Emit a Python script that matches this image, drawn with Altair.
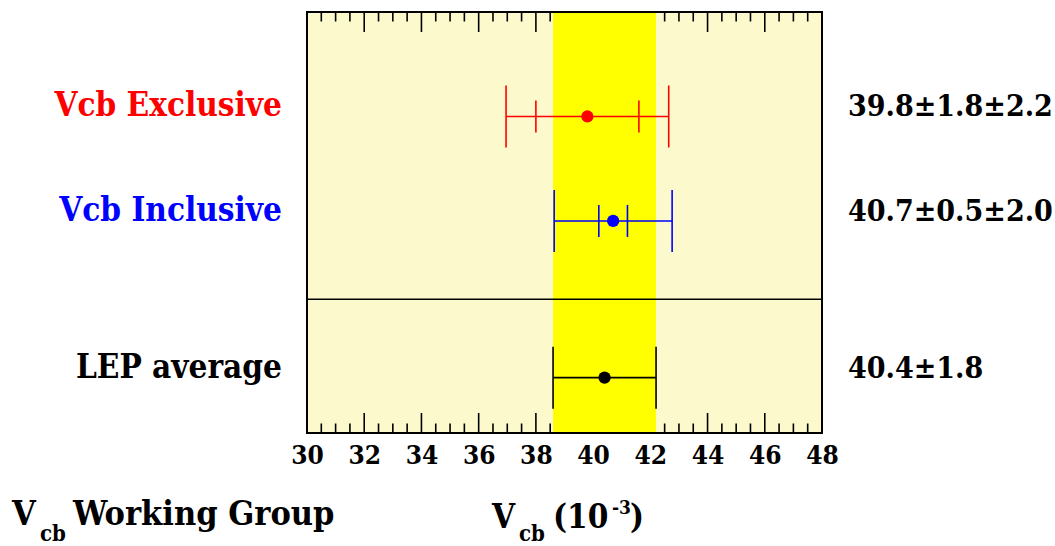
import numpy as np
import pandas as pd
import altair as alt

# Measurements of |Vcb| (units of 10^-3): central value, statistical and systematic error
names = ["Vcb Exclusive", "Vcb Inclusive", "LEP average"]
central = [39.8, 40.7, 40.4]
stat_err = [1.8, 0.5, 1.8]
syst_err = [2.2, 2.0, 0.0]
colours = ["#ff0000", "#0000ff", "#000000"]
rows = [1.0, 2.0, 3.5]
separator_row = [2.75]

x_domain = [30, 48]
label_values = list(range(30, 49, 2))
minor_step = 0.5

FONT = "DejaVu Serif Condensed"
W, H = 515, 421
Y_MAX = 4.03
PX = H / Y_MAX  # pixels per row unit

df = pd.DataFrame({"name": names, "central": central, "stat": stat_err,
                   "syst": syst_err, "colour": colours, "row": rows})
df["total"] = np.sqrt(df["stat"] ** 2 + df["syst"] ** 2)
df["lo"] = df["central"] - df["total"]
df["hi"] = df["central"] + df["total"]
df["ilo"] = df["central"] - df["stat"]
df["ihi"] = df["central"] + df["stat"]
df["value_text"] = [
    f"{c:.1f}±{s:.1f}±{y:.1f}" if y > 0 else f"{c:.1f}±{s:.1f}"
    for c, s, y in zip(df["central"], df["stat"], df["syst"])
]

# Error-bar caps: tall ones at the total error, short ones at the statistical error
cap_rows = []
for _, r in df.iterrows():
    for pos in (r["lo"], r["hi"]):
        cap_rows.append({"pos": pos, "row": r["row"], "half": 31 / PX, "colour": r["colour"]})
    if r["syst"] > 0:
        for pos in (r["ilo"], r["ihi"]):
            cap_rows.append({"pos": pos, "row": r["row"], "half": 16 / PX, "colour": r["colour"]})
caps = pd.DataFrame(cap_rows)
caps["y0"] = caps["row"] - caps["half"]
caps["y1"] = caps["row"] + caps["half"]

avg = df[df["name"] == "LEP average"]

ticks = pd.DataFrame({"v": np.arange(x_domain[0], x_domain[1] + 0.001, minor_step)})
ticks["len"] = np.where(np.isclose(ticks["v"] % 2, 0), 20 / PX, 9.5 / PX)

xs = alt.Scale(domain=x_domain, nice=False, zero=False)
ys = alt.Scale(domain=[0, Y_MAX], reverse=True, nice=False, zero=False)
xaxis = alt.Axis(values=label_values, ticks=False, domain=False, grid=False, title=None,
                 labelFont=FONT, labelFontWeight="bold", labelFontSize=26,
                 labelColor="black", labelPadding=9, labelFlush=False, format="d")


def X(field):
    return alt.X(field, type="quantitative", scale=xs, axis=xaxis)


def Y(field):
    return alt.Y(field, type="quantitative", scale=ys, axis=None)


colour_enc = alt.Color("colour:N", scale=None)

top_ticks = alt.Chart(ticks).transform_calculate(
    y0="0", y1="datum.len"
).mark_rule(color="black", strokeWidth=1.6).encode(x=X("v"), y=Y("y0:Q"), y2="y1:Q")

bottom_ticks = alt.Chart(ticks).transform_calculate(
    y0=f"{Y_MAX} - datum.len", y1=f"{Y_MAX}"
).mark_rule(color="black", strokeWidth=1.6).encode(x=X("v"), y=Y("y0:Q"), y2="y1:Q")

band = alt.Chart(avg).mark_rect(color="#ffff00").encode(
    x=X("lo"), x2="hi", y=alt.value(0), y2=alt.value(H)
)

separator = alt.Chart(pd.DataFrame({"row": separator_row})).mark_rule(
    color="black", strokeWidth=1.5
).encode(y=Y("row"), x=alt.value(0), x2=alt.value(W))

bars = alt.Chart(df).mark_rule(strokeWidth=1.6).encode(
    x=X("lo"), x2="hi", y=Y("row"), color=colour_enc
)

cap_marks = alt.Chart(caps).mark_rule(strokeWidth=1.6).encode(
    x=X("pos"), y=Y("y0"), y2="y1", color=colour_enc
)

points = alt.Chart(df).mark_circle(size=150, opacity=1).encode(
    x=X("central"), y=Y("row"), color=colour_enc
)

frame = alt.Chart(pd.DataFrame({"k": [0]})).mark_rect(
    fillOpacity=0, stroke="black", strokeWidth=2
).encode(x=alt.value(0), x2=alt.value(W), y=alt.value(0), y2=alt.value(H))

names_text = alt.Chart(df).mark_text(
    align="right", baseline="alphabetic", font=FONT, fontWeight="bold", fontSize=33
).encode(x=alt.value(-25), y=Y("row"), text="name:N", color=colour_enc)

values_text = alt.Chart(df).mark_text(
    align="left", baseline="alphabetic", font=FONT, fontWeight="bold", fontSize=30,
    color="black"
).encode(x=alt.value(541), y=Y("row"), text="value_text:N")


def note(text, x, y, size):
    return alt.Chart(pd.DataFrame({"k": [0]})).mark_text(
        text=text, align="left", baseline="alphabetic", font=FONT,
        fontWeight="bold", fontSize=size, color="black"
    ).encode(x=alt.value(x), y=alt.value(y))


notes = [
    note("V", -295, 513, 34),
    note("cb", -267, 529, 22),
    note("Working Group", -234, 513, 34),
    note("V", 185, 516, 33),
    note("cb", 212, 529, 22),
    note("(10", 246, 516, 33),
    note("-3", 305, 502, 19),
    note(")", 323, 516, 33),
]

chart = alt.layer(
    top_ticks, bottom_ticks, band, separator, bars, cap_marks, points, frame,
    names_text, values_text, *notes
).properties(
    width=W, height=H,
    padding={"left": 307, "top": 12, "right": 1055 - 307 - W, "bottom": 546 - 12 - H},
    autosize=alt.AutoSizeParams(type="none"),
).configure_view(fill="#fcfacc", stroke="transparent")

chart.save("out.html", embed_options={"renderer": "svg", "actions": False})
